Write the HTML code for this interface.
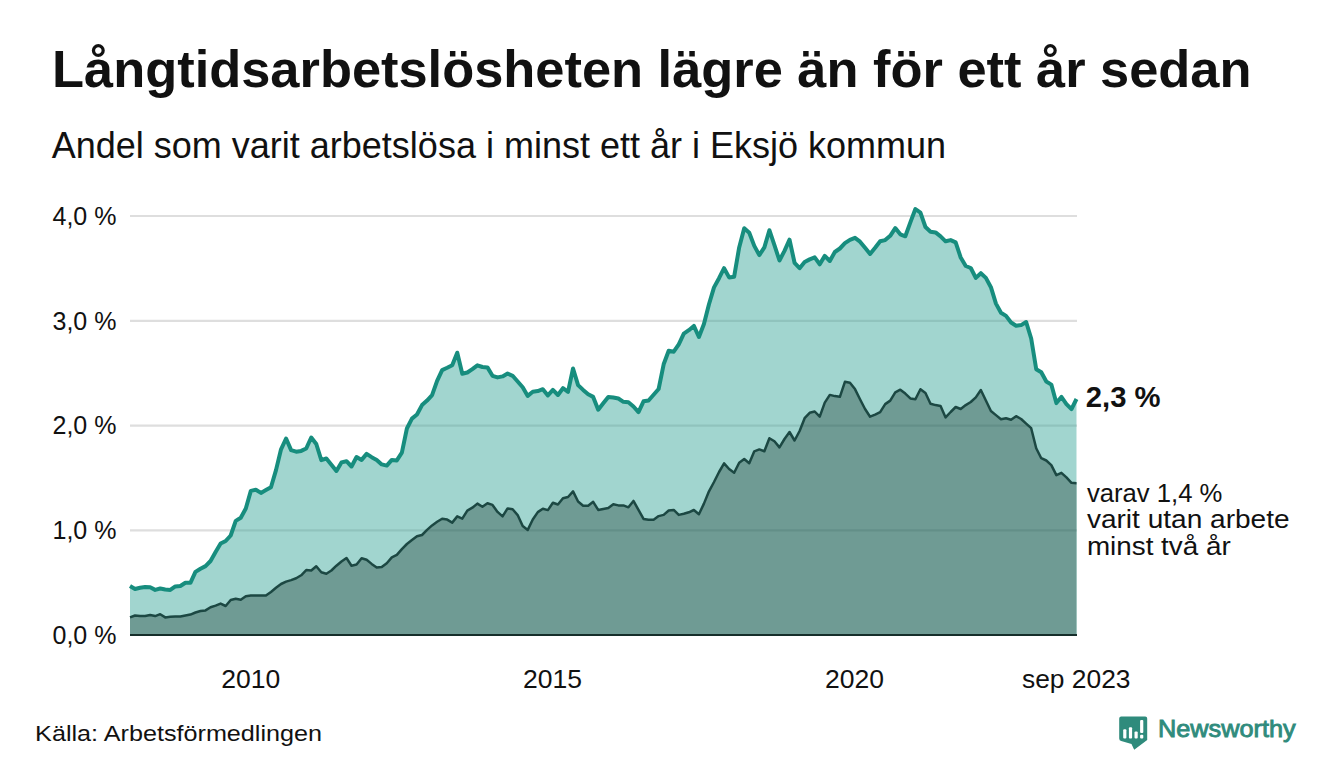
<!DOCTYPE html>
<html><head><meta charset="utf-8">
<style>
html,body{margin:0;padding:0;background:#fff;}
body{width:1340px;height:780px;overflow:hidden;position:relative;}
svg{position:absolute;left:0;top:0;}
text{font-family:"Liberation Sans",sans-serif;fill:#111111;}
</style></head><body>
<svg width="1340" height="780" viewBox="0 0 1340 780">
<rect x="0" y="0" width="1340" height="780" fill="#ffffff"/>
<text x="52.1" y="87.3" font-size="52" font-weight="bold" textLength="1199.4" lengthAdjust="spacingAndGlyphs">Långtidsarbetslösheten lägre än för ett år sedan</text>
<text x="51.7" y="157.5" font-size="36" textLength="894.4" lengthAdjust="spacingAndGlyphs">Andel som varit arbetslösa i minst ett år i Eksjö kommun</text>
<g stroke="#dedede" stroke-width="2.2">
<line x1="130" y1="216" x2="1077" y2="216"/>
<line x1="130" y1="320.8" x2="1077" y2="320.8"/>
<line x1="130" y1="425.6" x2="1077" y2="425.6"/>
<line x1="130" y1="530.4" x2="1077" y2="530.4"/>
</g>
<path d="M130.0,635.0 L130.00,586.0 L135.03,589.0 L140.07,587.7 L145.10,586.9 L150.14,587.3 L155.17,589.9 L160.21,588.5 L165.24,589.5 L170.28,589.9 L175.31,586.4 L180.35,586.0 L185.38,582.8 L190.41,582.8 L195.45,571.9 L200.48,568.7 L205.52,566.1 L210.55,561.0 L215.59,552.0 L220.62,543.5 L225.66,541.0 L230.69,535.5 L235.73,520.9 L240.76,517.8 L245.80,508.5 L250.83,490.9 L255.86,489.8 L260.90,492.9 L265.93,490.1 L270.97,487.3 L276.00,470.1 L281.04,449.3 L286.07,438.5 L291.11,450.1 L296.14,451.7 L301.18,450.9 L306.21,448.5 L311.24,437.5 L316.28,444.0 L321.31,460.1 L326.35,458.5 L331.38,464.7 L336.42,470.9 L341.45,462.4 L346.49,461.2 L351.52,466.5 L356.56,457.0 L361.59,459.9 L366.62,453.9 L371.66,457.2 L376.69,459.9 L381.73,464.4 L386.76,465.6 L391.80,459.9 L396.83,460.4 L401.87,452.7 L406.90,428.5 L411.94,418.6 L416.97,414.5 L422.01,405.1 L427.04,400.6 L432.07,395.2 L437.11,380.9 L442.14,370.1 L447.18,367.8 L452.21,365.3 L457.25,352.7 L462.28,373.7 L467.32,372.5 L472.35,369.2 L477.39,365.3 L482.42,367.0 L487.45,367.4 L492.49,375.8 L497.52,377.4 L502.56,376.4 L507.59,373.6 L512.63,375.8 L517.66,381.5 L522.70,387.3 L527.73,395.9 L532.77,391.8 L537.80,391.1 L542.84,389.2 L547.87,395.4 L552.90,389.9 L557.94,395.0 L562.97,388.2 L568.01,391.8 L573.04,368.5 L578.08,385.1 L583.11,389.9 L588.15,394.3 L593.18,396.9 L598.22,409.7 L603.25,403.3 L608.28,396.9 L613.32,397.5 L618.35,398.5 L623.39,401.8 L628.42,402.3 L633.46,406.5 L638.49,412.1 L643.53,401.3 L648.56,400.5 L653.60,394.8 L658.63,389.0 L663.66,364.3 L668.70,350.8 L673.73,351.7 L678.77,344.3 L683.80,333.6 L688.84,330.2 L693.87,325.9 L698.91,337.0 L703.94,324.0 L708.98,304.3 L714.01,287.4 L719.05,278.2 L724.08,268.2 L729.11,277.4 L734.15,276.7 L739.18,247.4 L744.22,228.2 L749.25,232.8 L754.29,245.9 L759.32,255.1 L764.36,247.4 L769.39,230.2 L774.43,245.1 L779.46,260.5 L784.49,250.8 L789.53,239.7 L794.56,262.8 L799.60,268.2 L804.63,262.0 L809.67,259.4 L814.70,257.4 L819.74,264.3 L824.77,255.9 L829.81,261.0 L834.84,252.0 L839.88,248.5 L844.91,243.2 L849.94,239.8 L854.98,237.8 L860.01,241.7 L865.05,247.8 L870.08,254.0 L875.12,247.8 L880.15,241.3 L885.19,240.1 L890.22,235.8 L895.26,228.1 L900.29,234.3 L905.32,236.3 L910.36,222.4 L915.39,209.0 L920.43,212.7 L925.46,227.0 L930.50,231.7 L935.53,232.4 L940.57,236.3 L945.60,241.3 L950.64,240.1 L955.67,242.4 L960.70,257.5 L965.74,266.0 L970.77,268.0 L975.81,277.9 L980.84,273.2 L985.88,277.9 L990.91,287.2 L995.95,303.6 L1000.98,312.8 L1006.02,315.9 L1011.05,322.5 L1016.09,325.7 L1021.12,325.1 L1026.15,322.0 L1031.19,338.5 L1036.22,369.2 L1041.26,372.3 L1046.29,381.5 L1051.33,384.6 L1056.36,403.1 L1061.40,396.9 L1066.43,404.1 L1071.47,409.2 L1076.50,399.0 L1076.5,635.0 Z" fill="#a1d5cf"/>
<path d="M130.0,635.0 L130.00,617.4 L135.03,615.5 L140.07,616.1 L145.10,616.1 L150.14,615.1 L155.17,616.1 L160.21,614.2 L165.24,617.4 L170.28,616.8 L175.31,616.4 L180.35,616.4 L185.38,615.5 L190.41,614.6 L195.45,612.5 L200.48,611.0 L205.52,610.4 L210.55,607.2 L215.59,605.6 L220.62,603.6 L225.66,606.0 L230.69,600.0 L235.73,598.8 L240.76,599.7 L245.80,596.2 L250.83,595.6 L255.86,595.6 L260.90,595.6 L265.93,595.6 L270.97,592.0 L276.00,587.8 L281.04,584.0 L286.07,581.6 L291.11,580.1 L296.14,578.3 L301.18,575.3 L306.21,570.1 L311.24,570.5 L316.28,566.3 L321.31,572.3 L326.35,573.7 L331.38,570.5 L336.42,565.7 L341.45,561.5 L346.49,558.0 L351.52,565.7 L356.56,564.5 L361.59,558.2 L366.62,559.8 L371.66,563.9 L376.69,567.5 L381.73,567.0 L386.76,563.2 L391.80,557.4 L396.83,554.9 L401.87,549.1 L406.90,544.0 L411.94,540.1 L416.97,536.3 L422.01,535.0 L427.04,529.9 L432.07,525.4 L437.11,521.8 L442.14,518.7 L447.18,519.6 L452.21,522.6 L457.25,516.4 L462.28,518.7 L467.32,510.6 L472.35,507.7 L477.39,503.6 L482.42,506.8 L487.45,503.3 L492.49,504.9 L497.52,511.9 L502.56,516.4 L507.59,508.4 L512.63,509.3 L517.66,515.1 L522.70,526.0 L527.73,529.9 L532.77,519.5 L537.80,512.1 L542.84,508.7 L547.87,510.1 L552.90,502.7 L557.94,504.5 L562.97,498.2 L568.01,497.0 L573.04,491.4 L578.08,501.5 L583.11,505.7 L588.15,505.7 L593.18,501.8 L598.22,509.9 L603.25,508.9 L608.28,508.1 L613.32,504.2 L618.35,505.4 L623.39,505.4 L628.42,507.3 L633.46,500.9 L638.49,509.9 L643.53,518.9 L648.56,519.7 L653.60,519.7 L658.63,516.1 L663.66,514.9 L668.70,510.5 L673.73,509.9 L678.77,514.9 L683.80,513.8 L688.84,512.3 L693.87,510.0 L698.91,514.3 L703.94,503.6 L708.98,491.3 L714.01,482.0 L719.05,472.0 L724.08,463.3 L729.11,469.0 L734.15,472.8 L739.18,462.8 L744.22,459.0 L749.25,463.3 L754.29,451.3 L759.32,449.4 L764.36,451.3 L769.39,438.2 L774.43,441.3 L779.46,447.4 L784.49,439.0 L789.53,432.0 L794.56,440.5 L799.60,431.0 L804.63,418.2 L809.67,412.8 L814.70,411.5 L819.74,416.7 L824.77,402.6 L829.81,394.9 L834.84,396.1 L839.88,396.8 L844.91,381.8 L849.94,382.7 L854.98,389.1 L860.01,399.3 L865.05,409.0 L870.08,416.7 L875.12,414.7 L880.15,412.2 L885.19,404.1 L890.22,400.6 L895.26,392.3 L900.29,389.7 L905.32,393.6 L910.36,398.4 L915.39,399.3 L920.43,389.2 L925.46,393.0 L930.50,403.7 L935.53,405.1 L940.57,405.9 L945.60,417.4 L950.64,412.0 L955.67,407.0 L960.70,409.0 L965.74,405.1 L970.77,402.0 L975.81,397.4 L980.84,390.0 L985.88,400.5 L990.91,411.0 L995.95,415.1 L1000.98,419.3 L1006.02,418.2 L1011.05,419.7 L1016.09,416.2 L1021.12,419.0 L1026.15,423.6 L1031.19,428.2 L1036.22,448.2 L1041.26,458.2 L1046.29,460.5 L1051.33,465.1 L1056.36,475.1 L1061.40,472.8 L1066.43,477.4 L1071.47,482.8 L1076.50,483.3 L1076.5,635.0 Z" fill="#6f9b94"/>
<defs><clipPath id="ca"><path d="M130.0,635.0 L130.00,586.0 L135.03,589.0 L140.07,587.7 L145.10,586.9 L150.14,587.3 L155.17,589.9 L160.21,588.5 L165.24,589.5 L170.28,589.9 L175.31,586.4 L180.35,586.0 L185.38,582.8 L190.41,582.8 L195.45,571.9 L200.48,568.7 L205.52,566.1 L210.55,561.0 L215.59,552.0 L220.62,543.5 L225.66,541.0 L230.69,535.5 L235.73,520.9 L240.76,517.8 L245.80,508.5 L250.83,490.9 L255.86,489.8 L260.90,492.9 L265.93,490.1 L270.97,487.3 L276.00,470.1 L281.04,449.3 L286.07,438.5 L291.11,450.1 L296.14,451.7 L301.18,450.9 L306.21,448.5 L311.24,437.5 L316.28,444.0 L321.31,460.1 L326.35,458.5 L331.38,464.7 L336.42,470.9 L341.45,462.4 L346.49,461.2 L351.52,466.5 L356.56,457.0 L361.59,459.9 L366.62,453.9 L371.66,457.2 L376.69,459.9 L381.73,464.4 L386.76,465.6 L391.80,459.9 L396.83,460.4 L401.87,452.7 L406.90,428.5 L411.94,418.6 L416.97,414.5 L422.01,405.1 L427.04,400.6 L432.07,395.2 L437.11,380.9 L442.14,370.1 L447.18,367.8 L452.21,365.3 L457.25,352.7 L462.28,373.7 L467.32,372.5 L472.35,369.2 L477.39,365.3 L482.42,367.0 L487.45,367.4 L492.49,375.8 L497.52,377.4 L502.56,376.4 L507.59,373.6 L512.63,375.8 L517.66,381.5 L522.70,387.3 L527.73,395.9 L532.77,391.8 L537.80,391.1 L542.84,389.2 L547.87,395.4 L552.90,389.9 L557.94,395.0 L562.97,388.2 L568.01,391.8 L573.04,368.5 L578.08,385.1 L583.11,389.9 L588.15,394.3 L593.18,396.9 L598.22,409.7 L603.25,403.3 L608.28,396.9 L613.32,397.5 L618.35,398.5 L623.39,401.8 L628.42,402.3 L633.46,406.5 L638.49,412.1 L643.53,401.3 L648.56,400.5 L653.60,394.8 L658.63,389.0 L663.66,364.3 L668.70,350.8 L673.73,351.7 L678.77,344.3 L683.80,333.6 L688.84,330.2 L693.87,325.9 L698.91,337.0 L703.94,324.0 L708.98,304.3 L714.01,287.4 L719.05,278.2 L724.08,268.2 L729.11,277.4 L734.15,276.7 L739.18,247.4 L744.22,228.2 L749.25,232.8 L754.29,245.9 L759.32,255.1 L764.36,247.4 L769.39,230.2 L774.43,245.1 L779.46,260.5 L784.49,250.8 L789.53,239.7 L794.56,262.8 L799.60,268.2 L804.63,262.0 L809.67,259.4 L814.70,257.4 L819.74,264.3 L824.77,255.9 L829.81,261.0 L834.84,252.0 L839.88,248.5 L844.91,243.2 L849.94,239.8 L854.98,237.8 L860.01,241.7 L865.05,247.8 L870.08,254.0 L875.12,247.8 L880.15,241.3 L885.19,240.1 L890.22,235.8 L895.26,228.1 L900.29,234.3 L905.32,236.3 L910.36,222.4 L915.39,209.0 L920.43,212.7 L925.46,227.0 L930.50,231.7 L935.53,232.4 L940.57,236.3 L945.60,241.3 L950.64,240.1 L955.67,242.4 L960.70,257.5 L965.74,266.0 L970.77,268.0 L975.81,277.9 L980.84,273.2 L985.88,277.9 L990.91,287.2 L995.95,303.6 L1000.98,312.8 L1006.02,315.9 L1011.05,322.5 L1016.09,325.7 L1021.12,325.1 L1026.15,322.0 L1031.19,338.5 L1036.22,369.2 L1041.26,372.3 L1046.29,381.5 L1051.33,384.6 L1056.36,403.1 L1061.40,396.9 L1066.43,404.1 L1071.47,409.2 L1076.50,399.0 L1076.5,635.0 Z"/></clipPath></defs>
<g stroke="rgba(0,40,35,0.1)" stroke-width="2.2" clip-path="url(#ca)">
<line x1="130" y1="216" x2="1077" y2="216"/>
<line x1="130" y1="320.8" x2="1077" y2="320.8"/>
<line x1="130" y1="425.6" x2="1077" y2="425.6"/>
<line x1="130" y1="530.4" x2="1077" y2="530.4"/>
</g>
<polyline points="130.00,617.4 135.03,615.5 140.07,616.1 145.10,616.1 150.14,615.1 155.17,616.1 160.21,614.2 165.24,617.4 170.28,616.8 175.31,616.4 180.35,616.4 185.38,615.5 190.41,614.6 195.45,612.5 200.48,611.0 205.52,610.4 210.55,607.2 215.59,605.6 220.62,603.6 225.66,606.0 230.69,600.0 235.73,598.8 240.76,599.7 245.80,596.2 250.83,595.6 255.86,595.6 260.90,595.6 265.93,595.6 270.97,592.0 276.00,587.8 281.04,584.0 286.07,581.6 291.11,580.1 296.14,578.3 301.18,575.3 306.21,570.1 311.24,570.5 316.28,566.3 321.31,572.3 326.35,573.7 331.38,570.5 336.42,565.7 341.45,561.5 346.49,558.0 351.52,565.7 356.56,564.5 361.59,558.2 366.62,559.8 371.66,563.9 376.69,567.5 381.73,567.0 386.76,563.2 391.80,557.4 396.83,554.9 401.87,549.1 406.90,544.0 411.94,540.1 416.97,536.3 422.01,535.0 427.04,529.9 432.07,525.4 437.11,521.8 442.14,518.7 447.18,519.6 452.21,522.6 457.25,516.4 462.28,518.7 467.32,510.6 472.35,507.7 477.39,503.6 482.42,506.8 487.45,503.3 492.49,504.9 497.52,511.9 502.56,516.4 507.59,508.4 512.63,509.3 517.66,515.1 522.70,526.0 527.73,529.9 532.77,519.5 537.80,512.1 542.84,508.7 547.87,510.1 552.90,502.7 557.94,504.5 562.97,498.2 568.01,497.0 573.04,491.4 578.08,501.5 583.11,505.7 588.15,505.7 593.18,501.8 598.22,509.9 603.25,508.9 608.28,508.1 613.32,504.2 618.35,505.4 623.39,505.4 628.42,507.3 633.46,500.9 638.49,509.9 643.53,518.9 648.56,519.7 653.60,519.7 658.63,516.1 663.66,514.9 668.70,510.5 673.73,509.9 678.77,514.9 683.80,513.8 688.84,512.3 693.87,510.0 698.91,514.3 703.94,503.6 708.98,491.3 714.01,482.0 719.05,472.0 724.08,463.3 729.11,469.0 734.15,472.8 739.18,462.8 744.22,459.0 749.25,463.3 754.29,451.3 759.32,449.4 764.36,451.3 769.39,438.2 774.43,441.3 779.46,447.4 784.49,439.0 789.53,432.0 794.56,440.5 799.60,431.0 804.63,418.2 809.67,412.8 814.70,411.5 819.74,416.7 824.77,402.6 829.81,394.9 834.84,396.1 839.88,396.8 844.91,381.8 849.94,382.7 854.98,389.1 860.01,399.3 865.05,409.0 870.08,416.7 875.12,414.7 880.15,412.2 885.19,404.1 890.22,400.6 895.26,392.3 900.29,389.7 905.32,393.6 910.36,398.4 915.39,399.3 920.43,389.2 925.46,393.0 930.50,403.7 935.53,405.1 940.57,405.9 945.60,417.4 950.64,412.0 955.67,407.0 960.70,409.0 965.74,405.1 970.77,402.0 975.81,397.4 980.84,390.0 985.88,400.5 990.91,411.0 995.95,415.1 1000.98,419.3 1006.02,418.2 1011.05,419.7 1016.09,416.2 1021.12,419.0 1026.15,423.6 1031.19,428.2 1036.22,448.2 1041.26,458.2 1046.29,460.5 1051.33,465.1 1056.36,475.1 1061.40,472.8 1066.43,477.4 1071.47,482.8 1076.50,483.3" fill="none" stroke="#1c4843" stroke-width="2.5" stroke-linejoin="round"/>
<polyline points="130.00,586.0 135.03,589.0 140.07,587.7 145.10,586.9 150.14,587.3 155.17,589.9 160.21,588.5 165.24,589.5 170.28,589.9 175.31,586.4 180.35,586.0 185.38,582.8 190.41,582.8 195.45,571.9 200.48,568.7 205.52,566.1 210.55,561.0 215.59,552.0 220.62,543.5 225.66,541.0 230.69,535.5 235.73,520.9 240.76,517.8 245.80,508.5 250.83,490.9 255.86,489.8 260.90,492.9 265.93,490.1 270.97,487.3 276.00,470.1 281.04,449.3 286.07,438.5 291.11,450.1 296.14,451.7 301.18,450.9 306.21,448.5 311.24,437.5 316.28,444.0 321.31,460.1 326.35,458.5 331.38,464.7 336.42,470.9 341.45,462.4 346.49,461.2 351.52,466.5 356.56,457.0 361.59,459.9 366.62,453.9 371.66,457.2 376.69,459.9 381.73,464.4 386.76,465.6 391.80,459.9 396.83,460.4 401.87,452.7 406.90,428.5 411.94,418.6 416.97,414.5 422.01,405.1 427.04,400.6 432.07,395.2 437.11,380.9 442.14,370.1 447.18,367.8 452.21,365.3 457.25,352.7 462.28,373.7 467.32,372.5 472.35,369.2 477.39,365.3 482.42,367.0 487.45,367.4 492.49,375.8 497.52,377.4 502.56,376.4 507.59,373.6 512.63,375.8 517.66,381.5 522.70,387.3 527.73,395.9 532.77,391.8 537.80,391.1 542.84,389.2 547.87,395.4 552.90,389.9 557.94,395.0 562.97,388.2 568.01,391.8 573.04,368.5 578.08,385.1 583.11,389.9 588.15,394.3 593.18,396.9 598.22,409.7 603.25,403.3 608.28,396.9 613.32,397.5 618.35,398.5 623.39,401.8 628.42,402.3 633.46,406.5 638.49,412.1 643.53,401.3 648.56,400.5 653.60,394.8 658.63,389.0 663.66,364.3 668.70,350.8 673.73,351.7 678.77,344.3 683.80,333.6 688.84,330.2 693.87,325.9 698.91,337.0 703.94,324.0 708.98,304.3 714.01,287.4 719.05,278.2 724.08,268.2 729.11,277.4 734.15,276.7 739.18,247.4 744.22,228.2 749.25,232.8 754.29,245.9 759.32,255.1 764.36,247.4 769.39,230.2 774.43,245.1 779.46,260.5 784.49,250.8 789.53,239.7 794.56,262.8 799.60,268.2 804.63,262.0 809.67,259.4 814.70,257.4 819.74,264.3 824.77,255.9 829.81,261.0 834.84,252.0 839.88,248.5 844.91,243.2 849.94,239.8 854.98,237.8 860.01,241.7 865.05,247.8 870.08,254.0 875.12,247.8 880.15,241.3 885.19,240.1 890.22,235.8 895.26,228.1 900.29,234.3 905.32,236.3 910.36,222.4 915.39,209.0 920.43,212.7 925.46,227.0 930.50,231.7 935.53,232.4 940.57,236.3 945.60,241.3 950.64,240.1 955.67,242.4 960.70,257.5 965.74,266.0 970.77,268.0 975.81,277.9 980.84,273.2 985.88,277.9 990.91,287.2 995.95,303.6 1000.98,312.8 1006.02,315.9 1011.05,322.5 1016.09,325.7 1021.12,325.1 1026.15,322.0 1031.19,338.5 1036.22,369.2 1041.26,372.3 1046.29,381.5 1051.33,384.6 1056.36,403.1 1061.40,396.9 1066.43,404.1 1071.47,409.2 1076.50,399.0" fill="none" stroke="#178d7e" stroke-width="4" stroke-linejoin="round"/>
<line x1="130" y1="635" x2="1077" y2="635" stroke="#152e2a" stroke-width="2"/>
<g font-size="26.5">
<text x="52.5" y="224.7" textLength="64" lengthAdjust="spacingAndGlyphs">4,0 %</text>
<text x="52.5" y="329.5" textLength="64" lengthAdjust="spacingAndGlyphs">3,0 %</text>
<text x="52.5" y="434.3" textLength="64" lengthAdjust="spacingAndGlyphs">2,0 %</text>
<text x="52.5" y="539.1" textLength="64" lengthAdjust="spacingAndGlyphs">1,0 %</text>
<text x="52.5" y="643.9" textLength="64" lengthAdjust="spacingAndGlyphs">0,0 %</text>
<text x="221.3" y="687.7" textLength="59" lengthAdjust="spacingAndGlyphs">2010</text>
<text x="522.9" y="687.7" textLength="59" lengthAdjust="spacingAndGlyphs">2015</text>
<text x="824.9" y="687.7" textLength="59" lengthAdjust="spacingAndGlyphs">2020</text>
<text x="1022" y="687.5" textLength="108.5" lengthAdjust="spacingAndGlyphs">sep 2023</text>
</g>
<text x="1085.8" y="407.3" font-size="30" font-weight="bold" textLength="74.8" lengthAdjust="spacingAndGlyphs">2,3 %</text>
<g font-size="25">
<text x="1086.9" y="501.8" textLength="135.5" lengthAdjust="spacingAndGlyphs">varav 1,4 %</text>
<text x="1086.9" y="528.1" textLength="202.7" lengthAdjust="spacingAndGlyphs">varit utan arbete</text>
<text x="1086.9" y="554.6" textLength="143.8" lengthAdjust="spacingAndGlyphs">minst två år</text>
</g>
<text x="35.1" y="741.3" font-size="22" textLength="287" lengthAdjust="spacingAndGlyphs">Källa: Arbetsförmedlingen</text>
<g fill="#2f8b7c">
<path d="M1121.2,716.4 H1145.2 Q1147.2,716.4 1147.2,718.4 V740 L1134.2,749.8 L1131.5,744 L1121.2,741 Q1119.2,740.5 1119.2,738.5 V718.4 Q1119.2,716.4 1121.2,716.4 Z"/>
</g>
<g fill="#ffffff">
<rect x="1123.2" y="729.3" width="3.2" height="9.3" rx="1"/>
<rect x="1128.9" y="727.3" width="3.2" height="11.3" rx="1"/>
<rect x="1134.5" y="731.6" width="3.2" height="7" rx="1"/>
<rect x="1140.1" y="720.1" width="3.2" height="13" rx="1"/>
<rect x="1140.1" y="734.8" width="3.2" height="3.8" rx="1"/>
</g>
<text x="1158" y="737" font-size="24.5" font-weight="normal" style="fill:#2f8b7c;stroke:#2f8b7c;stroke-width:0.9" textLength="137.6" lengthAdjust="spacingAndGlyphs">Newsworthy</text>
</svg>
</body></html>
